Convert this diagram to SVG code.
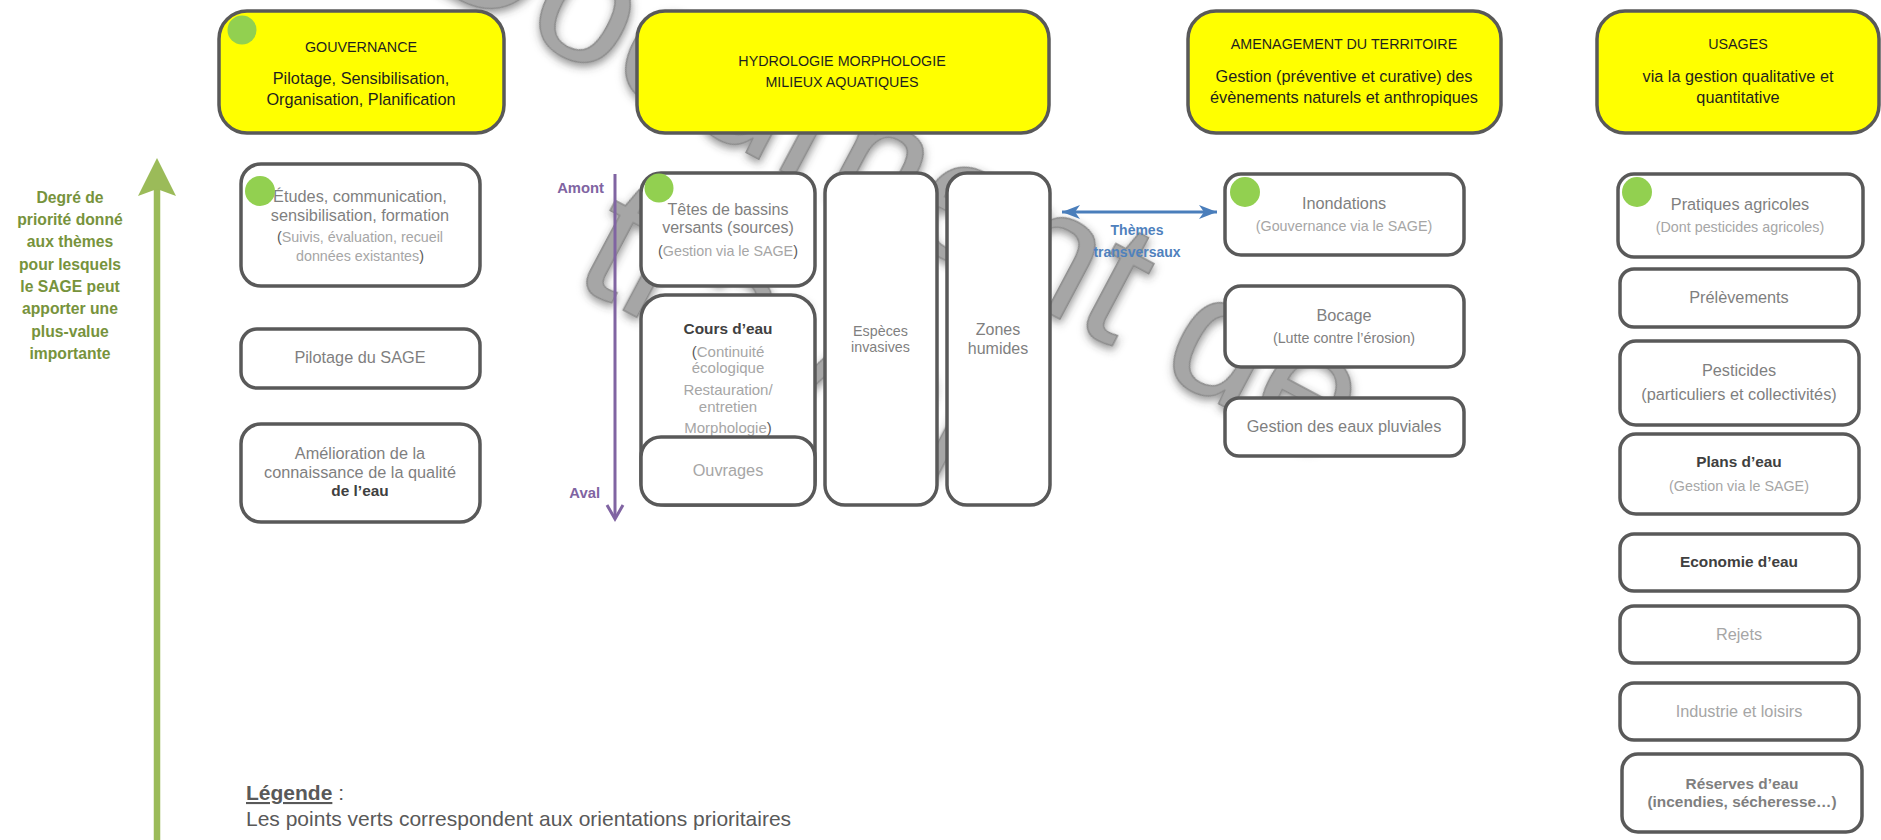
<svg xmlns="http://www.w3.org/2000/svg" width="1881" height="840" viewBox="0 0 1881 840">
<defs>
<style>
text{font-family:"Liberation Sans",Arial,sans-serif;text-anchor:middle}
.hdr{fill:#ffff00;stroke:#595959;stroke-width:3.5}
.box{fill:#fff;stroke:#595959;stroke-width:3.5}
.dot{fill:#92d050}
.t{font-size:14.3px;fill:#1f1f1f}
.s{font-size:16.3px;fill:#1f1f1f}
.m{font-size:16.3px;fill:#7f7f7f}
.l{font-size:14.3px;fill:#a6a6a6}
.b{font-size:15.4px;font-weight:bold;fill:#404040}
.p{fill:#595959}
.g{font-size:15.7px;font-weight:bold;fill:#77933c}
.pu{font-size:14.8px;font-weight:bold;fill:#8064a2;text-anchor:end}
.bl{font-size:14px;font-weight:bold;fill:#4f81bd}
.lg{font-size:21px;fill:#595959;text-anchor:start}
.wm{font-size:175px;fill:#a6a6a6;stroke:#8c8c8c;stroke-width:1.5}
</style>
<filter id="wmShadow" x="-10%" y="-30%" width="120%" height="160%">
<feDropShadow dx="2" dy="3" stdDeviation="4" flood-color="#3a3a3a" flood-opacity="0.55"/>
</filter>
<marker id="blueHead" viewBox="0 0 20 16" refX="18" refY="8" markerWidth="20" markerHeight="16" markerUnits="userSpaceOnUse" orient="auto-start-reverse">
<path d="M0,1 L18,8 L0,15 L5,8 Z" fill="#4a7ebb"/>
</marker>
</defs>

<g id="watermark" transform="translate(409,-27) rotate(28)" filter="url(#wmShadow)">
<text class="wm" x="520" y="0">Document de</text>
<text class="wm" x="520" y="197">travail</text>
</g>

<g id="priority-axis">
<line x1="157" y1="188" x2="157" y2="840" stroke="#9bbb59" stroke-width="6.5"/>
<path d="M157,158 L176,196 L157,189 L138,196 Z" fill="#9bbb59"/>
<text class="g" x="70" y="203">Degré de</text>
<text class="g" x="70" y="225">priorité donné</text>
<text class="g" x="70" y="247">aux thèmes</text>
<text class="g" x="70" y="270">pour lesquels</text>
<text class="g" x="70" y="292">le SAGE peut</text>
<text class="g" x="70" y="314">apporter une</text>
<text class="g" x="70" y="337">plus-value</text>
<text class="g" x="70" y="359">importante</text>
</g>

<g id="hdr-gouvernance">
<rect class="hdr" x="219" y="11" width="285" height="122" rx="28"/>
<text class="t" x="361" y="52">GOUVERNANCE</text>
<text class="s" x="361" y="84">Pilotage, Sensibilisation,</text>
<text class="s" x="361" y="105">Organisation, Planification</text>
<circle class="dot" cx="242" cy="30" r="14.5"/>
</g>

<g id="hdr-hydrologie">
<rect class="hdr" x="637" y="11" width="412" height="122" rx="28"/>
<text class="t" x="842" y="66">HYDROLOGIE MORPHOLOGIE</text>
<text class="t" x="842" y="87">MILIEUX AQUATIQUES</text>
</g>

<g id="hdr-amenagement">
<rect class="hdr" x="1188" y="11" width="313" height="122" rx="28"/>
<text class="t" x="1344" y="49">AMENAGEMENT DU TERRITOIRE</text>
<text class="s" x="1344" y="82">Gestion (préventive et curative) des</text>
<text class="s" x="1344" y="103">évènements naturels et anthropiques</text>
</g>

<g id="hdr-usages">
<rect class="hdr" x="1597" y="11" width="282" height="122" rx="28"/>
<text class="t" x="1738" y="49">USAGES</text>
<text class="s" x="1738" y="82">via la gestion qualitative et</text>
<text class="s" x="1738" y="103">quantitative</text>
</g>

<g id="etudes">
<rect class="box" x="241" y="164" width="239" height="122" rx="20"/>
<text class="m" x="360" y="202">Études, communication,</text>
<text class="m" x="360" y="221">sensibilisation, formation</text>
<text class="l" x="360" y="242"><tspan class="p">(</tspan>Suivis, évaluation, recueil</text>
<text class="l" x="360" y="261">données existantes<tspan class="p">)</tspan></text>
<circle class="dot" cx="260" cy="191" r="15"/>
</g>

<g id="pilotage">
<rect class="box" x="241" y="329" width="239" height="59" rx="16"/>
<text class="m" x="360" y="363">Pilotage du SAGE</text>
</g>

<g id="amelioration">
<rect class="box" x="241" y="424" width="239" height="98" rx="20"/>
<text class="m" x="360" y="459">Amélioration de la</text>
<text class="m" x="360" y="478">connaissance de la qualité</text>
<text class="b" x="360" y="496">de l’eau</text>
</g>

<g id="tetes">
<rect class="box" x="641" y="173" width="174" height="113" rx="20"/>
<text class="m" x="728" y="215" style="font-size:16px">Têtes de bassins</text>
<text class="m" x="728" y="233" style="font-size:16px">versants (sources)</text>
<text class="l" x="728" y="256"><tspan class="p">(</tspan>Gestion via le SAGE<tspan class="p">)</tspan></text>
<circle class="dot" cx="659" cy="188" r="14.5"/>
</g>

<g id="cours-eau">
<rect class="box" x="641" y="295" width="174" height="210" rx="24"/>
<text class="b" x="728" y="334">Cours d’eau</text>
<text class="l" x="728" y="357" style="font-size:15px"><tspan class="p">(</tspan>Continuité</text>
<text class="l" x="728" y="373" style="font-size:15px">écologique</text>
<text class="l" x="728" y="395" style="font-size:15px">Restauration/</text>
<text class="l" x="728" y="412" style="font-size:15px">entretien</text>
<text class="l" x="728" y="433" style="font-size:15px">Morphologie<tspan class="p">)</tspan></text>
</g>

<g id="ouvrages">
<rect class="box" x="641" y="437" width="174" height="68" rx="20"/>
<text class="l" x="728" y="476" style="font-size:16.3px">Ouvrages</text>
</g>

<g id="especes">
<rect class="box" x="825" y="173" width="112" height="332" rx="20"/>
<text class="m" x="880.5" y="336" style="font-size:14.3px">Espèces</text>
<text class="m" x="880.5" y="352" style="font-size:14.3px">invasives</text>
</g>

<g id="zones">
<rect class="box" x="947" y="173" width="103" height="332" rx="20"/>
<text class="m" x="998" y="335" style="font-size:16px">Zones</text>
<text class="m" x="998" y="354" style="font-size:16px">humides</text>
</g>

<g id="inondations">
<rect class="box" x="1225" y="174" width="239" height="81" rx="16"/>
<text class="m" x="1344" y="209">Inondations</text>
<text class="l" x="1344" y="231">(Gouvernance via le SAGE)</text>
<circle class="dot" cx="1245" cy="192" r="15"/>
</g>

<g id="bocage">
<rect class="box" x="1225" y="286" width="239" height="81" rx="16"/>
<text class="m" x="1344" y="321">Bocage</text>
<text class="m" x="1344" y="343" style="font-size:14.3px">(Lutte contre l’érosion)</text>
</g>

<g id="pluviales">
<rect class="box" x="1225" y="398" width="239" height="58" rx="14"/>
<text class="m" x="1344" y="432">Gestion des eaux pluviales</text>
</g>

<g id="pratiques">
<rect class="box" x="1618" y="174" width="245" height="83" rx="16"/>
<text class="m" x="1740" y="210">Pratiques agricoles</text>
<text class="l" x="1740" y="232">(Dont pesticides agricoles)</text>
<circle class="dot" cx="1637" cy="192" r="15"/>
</g>

<g id="prelevements">
<rect class="box" x="1620" y="269" width="239" height="58" rx="14"/>
<text class="m" x="1739" y="303">Prélèvements</text>
</g>

<g id="pesticides">
<rect class="box" x="1620" y="341" width="239" height="84" rx="16"/>
<text class="m" x="1739" y="376">Pesticides</text>
<text class="m" x="1739" y="400">(particuliers et collectivités)</text>
</g>

<g id="plans-eau">
<rect class="box" x="1620" y="434" width="239" height="80" rx="16"/>
<text class="b" x="1739" y="467">Plans d’eau</text>
<text class="l" x="1739" y="491">(Gestion via le SAGE)</text>
</g>

<g id="economie">
<rect class="box" x="1620" y="534" width="239" height="57" rx="14"/>
<text class="b" x="1739" y="567">Economie d’eau</text>
</g>

<g id="rejets">
<rect class="box" x="1620" y="606" width="239" height="57" rx="14"/>
<text class="l" x="1739" y="640" style="font-size:16.3px">Rejets</text>
</g>

<g id="industrie">
<rect class="box" x="1620" y="683" width="239" height="57" rx="14"/>
<text class="l" x="1739" y="717" style="font-size:16.3px">Industrie et loisirs</text>
</g>

<g id="reserves">
<rect class="box" x="1622" y="754" width="240" height="78" rx="16"/>
<text class="b" x="1742" y="789" style="fill:#7f7f7f">Réserves d’eau</text>
<text class="b" x="1742" y="807" style="fill:#7f7f7f">(incendies, sécheresse…)</text>
</g>

<g id="connectors">
<line x1="615" y1="174" x2="615" y2="518" stroke="#8064a2" stroke-width="3"/>
<path d="M607,505 L615,519 L623,505" fill="none" stroke="#8064a2" stroke-width="3"/>
<text class="pu" x="604" y="193">Amont</text>
<text class="pu" x="600" y="498">Aval</text>
<line x1="1062" y1="212" x2="1217" y2="212" stroke="#4a7ebb" stroke-width="3" marker-start="url(#blueHead)" marker-end="url(#blueHead)"/>
<text class="bl" x="1137" y="235">Thèmes</text>
<text class="bl" x="1137" y="257">transversaux</text>
</g>

<g id="legend">
<text class="lg" x="246" y="800"><tspan font-weight="bold" text-decoration="underline">Légende</tspan> :</text>
<text class="lg" x="246" y="826">Les points verts correspondent aux orientations prioritaires</text>
</g>
</svg>
